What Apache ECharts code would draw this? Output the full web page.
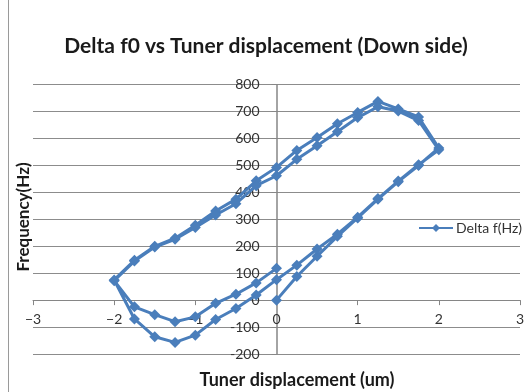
<!DOCTYPE html>
<html>
<head>
<meta charset="utf-8">
<script src="https://cdn.jsdelivr.net/npm/echarts@6/dist/echarts.min.js"></script>
<style>
html,body{margin:0;padding:0;background:#fff;}
#chart{width:528px;height:392px;}
</style>
</head>
<body>
<div id="chart"></div>
<script>
// Measurement sequence (two cycles: 0 -> 2 -> -2 -> 0, twice)
var displacement = [
  0, 0.25, 0.5, 0.75, 1, 1.25, 1.5, 1.75, 2,
  1.75, 1.5, 1.25, 1, 0.75, 0.5, 0.25, 0, -0.25, -0.5, -0.75, -1, -1.25, -1.5, -1.75, -2,
  -1.75, -1.5, -1.25, -1, -0.75, -0.5, -0.25, 0,
  0.25, 0.5, 0.75, 1, 1.25, 1.5, 1.75, 2,
  1.75, 1.5, 1.25, 1, 0.75, 0.5, 0.25, 0, -0.25, -0.5, -0.75, -1, -1.25, -1.5, -1.75, -2,
  -1.75, -1.5, -1.25, -1, -0.75, -0.5, -0.25, 0
];
var deltaF = [
  0, 88, 163, 237, 305, 375, 440, 500, 565,
  680, 710, 738, 697, 655, 604, 556, 493, 443, 375, 331, 278, 230, 200, 148, 75,
  -70, -136, -157, -130, -72, -31, 19, 76,
  130, 190, 245, 308, 377, 442, 503, 558,
  667, 702, 718, 678, 625, 573, 523, 462, 425, 358, 316, 270, 226, 197, 145, 72,
  -25, -54, -80, -62, -12, 22, 64, 118
];
var seriesName = 'Delta f(Hz)';
var titleText = 'Delta f0 vs Tuner displacement (Down side)';
var xTitle = 'Tuner displacement (um)';
var yTitle = 'Frequency(Hz)';

var X_MIN = -3, X_MAX = 3, Y_MIN = -200, Y_MAX = 800;
var GRID = {left: 33, right: 8, top: 84.7, bottom: 38};
var W = 528, H = 392;
var plotW = W - GRID.left - GRID.right, plotH = H - GRID.top - GRID.bottom;
// axes cross at zero: shift labels/ticks with the axis lines
var yAxisOffset = -((0 - X_MIN) / (X_MAX - X_MIN)) * plotW;
var xAxisOffset = -((0 - Y_MIN) / (Y_MAX - Y_MIN)) * plotH;

var pts = displacement.map(function (x, i) { return [x, deltaF[i]]; });
var FONT = 'Lato, "Open Sans", sans-serif';
var chart = echarts.init(document.getElementById('chart'), null, {renderer: 'canvas'});
chart.setOption({
  backgroundColor: '#ffffff',
  animation: false,
  title: {
    text: titleText,
    left: 261, top: 31, textAlign: 'center',
    textStyle: {fontFamily: FONT, fontSize: 21, fontWeight: 'bold', color: '#1a1a1a'}
  },
  legend: {
    data: [seriesName],
    left: 418, top: 221, padding: 0,
    itemWidth: 34, itemHeight: 10, itemGap: 4,
    textStyle: {fontFamily: FONT, fontSize: 14, color: '#333333', padding: [0, 0, 0, -2]}
  },
  grid: {left: GRID.left, right: GRID.right, top: GRID.top, bottom: GRID.bottom, containLabel: false},
  xAxis: {
    type: 'value', min: X_MIN, max: X_MAX, interval: 1,
    position: 'bottom', offset: xAxisOffset,
    axisLine: {onZero: false, lineStyle: {color: '#868686', width: 1}},
    axisTick: {show: true, length: 5, lineStyle: {color: '#868686'}},
    axisLabel: {fontFamily: FONT, fontSize: 14, color: '#333333', margin: 12,
      formatter: function (v) { return v < 0 ? '\u2212' + Math.abs(v) : String(v); }},
    splitLine: {show: false}
  },
  yAxis: {
    type: 'value', min: Y_MIN, max: Y_MAX, interval: 100,
    position: 'left', offset: yAxisOffset,
    axisLine: {onZero: false, lineStyle: {color: '#868686', width: 1.5}},
    axisTick: {show: true, length: 5, lineStyle: {color: '#868686'}},
    axisLabel: {fontFamily: FONT, fontSize: 14, color: '#333333', margin: 17},
    splitLine: {show: true, lineStyle: {color: '#8c8c8c', width: 1}}
  },
  graphic: [
    {type: 'rect', shape: {x: 8.5, y: -5, width: 600, height: 500}, style: {fill: 'none', stroke: '#9a9a9a', lineWidth: 1}, silent: true},
    {type: 'text', x: 297, y: 380, style: {text: xTitle, font: 'bold 18px ' + FONT, fill: '#1a1a1a', textAlign: 'center', textVerticalAlign: 'middle'}},
    {type: 'text', x: 24, y: 217, rotation: Math.PI / 2, style: {text: yTitle, font: 'bold 17px ' + FONT, fill: '#1a1a1a', textAlign: 'center', textVerticalAlign: 'middle'}}
  ],
  series: [{
    name: seriesName,
    type: 'line',
    data: pts,
    symbol: 'diamond',
    symbolSize: 11,
    showAllSymbol: true,
    lineStyle: {color: '#4a7ebb', width: 3},
    itemStyle: {color: '#4a7ebb'},
    z: 5
  }]
});
</script>
</body>
</html>
